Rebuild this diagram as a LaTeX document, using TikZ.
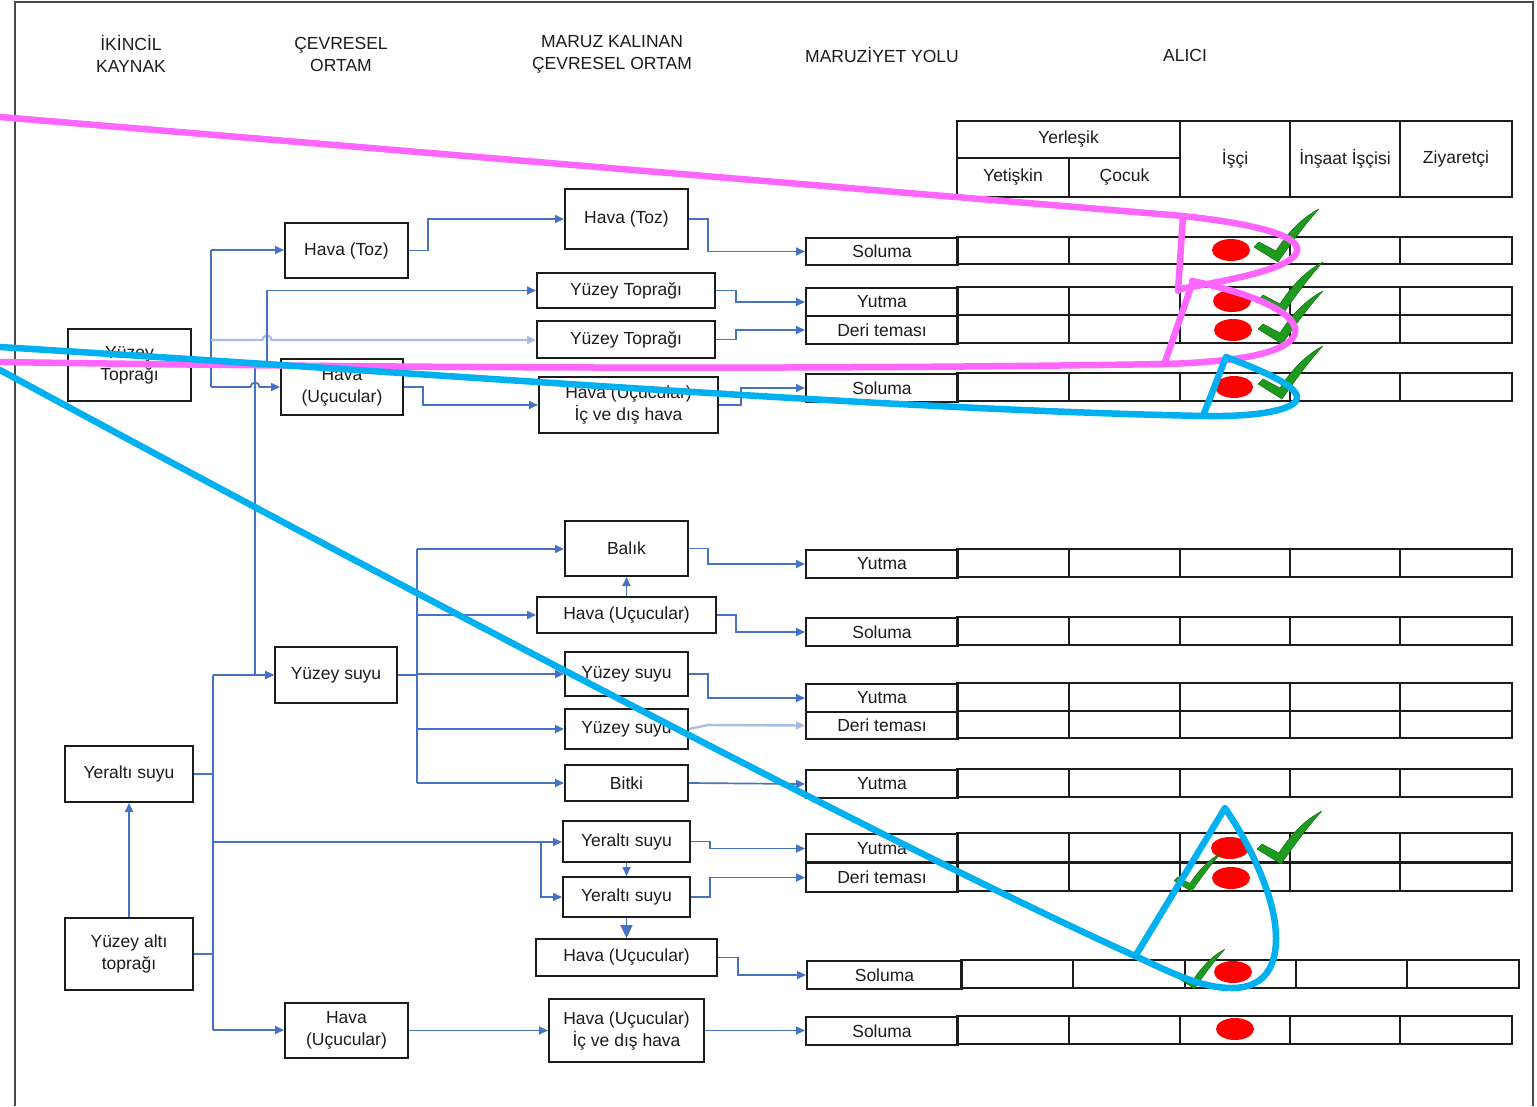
\documentclass[tikz,border=0pt]{standalone}
\usepackage{fontspec}
\setmainfont{Liberation Sans}
\usetikzlibrary{arrows.meta}
\definecolor{conncol}{HTML}{4472C4}
\definecolor{fadecol}{HTML}{A9BDE2}
\definecolor{pinkpen}{HTML}{FF66FF}
\definecolor{bluepen}{HTML}{00B0F0}
\definecolor{tickgreen}{HTML}{1E9A1E}
\definecolor{tickdark}{HTML}{0E6E0E}
\definecolor{inkcol}{HTML}{1C1C1C}
\definecolor{framecol}{HTML}{4A4A4A}
\newcommand\lbl{\fontsize{17.5}{22}\selectfont}
% five receptor cells of one pathway row
\newcommand\rowcells[2]{%
  \foreach \xa/\xb in {957/1069,1069/1180,1180/1290,1290/1400,1400/1512}
    {\draw[tbl] (\xa,#1) rectangle (\xb,#2);}}
\newcommand\mkbox[6]{\node[box,minimum width=#4pt,minimum height=#5pt] (#1) at (#2,#3) {#6};}
\begin{document}
\begin{tikzpicture}[x=1pt,y=-1pt,
  box/.style={draw=inkcol,line width=2pt,fill=white,align=center,inner sep=0pt,font=\lbl,text=inkcol},
  pcell/.style={draw=inkcol,line width=2pt,align=center,inner sep=0pt,font=\lbl,text=inkcol,anchor=north west,minimum width=152pt},
  tbl/.style={draw=inkcol,line width=2pt},
  hdr/.style={font=\lbl,align=center,text=inkcol},
  conn/.style={draw=conncol,line width=1.7pt},
  arr/.style={conn,-{Triangle[length=9pt,width=8pt]}},
  bigarr/.style={conn,-{Triangle[length=13pt,width=12pt]}},
  arrfade/.style={draw=fadecol,line width=2.4pt,-{Triangle[length=9pt,width=8pt,fill=conncol]}},
  pen/.style={line width=6.5pt,line join=round,line cap=round},
  okmark/.pic={\filldraw[fill=tickgreen,draw=tickdark,line width=0.5pt,line join=round]
     (2,2) -- (-22,-13) -- (-17,-18) -- (0,-9)
     .. controls (10,-25) and (25,-42) .. (43,-51)
     .. controls (28,-35) and (12,-12) .. (2,2) -- cycle;},
]
\useasboundingbox (0,0) rectangle (1537,1106);
\fill[white] (0,0) rectangle (1537,1106);
% page frame
\draw[framecol,line width=2.5pt] (15,1106) -- (15,2) -- (1533,2) -- (1533,1106);

% column headings
\node[hdr] (hd1) at (131,54) {İKİNCİL\\KAYNAK};
\node[hdr] (hd2) at (341,54) {ÇEVRESEL\\ORTAM};
\node[hdr] (hd3) at (612,54) {MARUZ KALINAN\\ÇEVRESEL ORTAM};
\node[hdr] (hd4) at (882,55) {MARUZİYET YOLU};
\node[hdr] (hd5) at (1185,55) {ALICI};

% receptor table heading
\mkbox{hYer}{1068.5}{139.5}{223}{37}{Yerleşik}
\mkbox{hYet}{1013}{177.5}{112}{39}{Yetişkin}
\mkbox{hCoc}{1124.5}{177.5}{111}{39}{Çocuk}
\mkbox{hIsc}{1235}{159}{110}{76}{İşçi}
\mkbox{hIns}{1345}{159}{110}{76}{İnşaat İşçisi}
\mkbox{hZiy}{1456}{159}{112}{76}{Ziyaretçi}

% secondary sources
\mkbox{ysT}{129.5}{365}{123}{72}{Yüzey\\Toprağı}
\mkbox{yas}{129}{774}{128}{56}{Yeraltı suyu}
\mkbox{yat}{129}{954}{128}{72}{Yüzey altı\\toprağı}

% environmental media
\mkbox{hT2}{346.5}{250.5}{123}{55}{Hava (Toz)}
\mkbox{hU2}{342}{387}{122}{56}{Hava\\(Uçucular)}
\mkbox{ys2}{336}{675}{122}{56}{Yüzey suyu}
\mkbox{hU2b}{346.5}{1030.5}{123}{55}{Hava\\(Uçucular)}

% exposed media
\mkbox{hT3}{626.5}{219}{123}{60}{Hava (Toz)}
\mkbox{yt3a}{626}{290.5}{178}{35}{Yüzey Toprağı}
\mkbox{yt3b}{626}{339.5}{178}{37}{Yüzey Toprağı}
\mkbox{hi3}{628.5}{405}{179}{56}{Hava (Uçucular)\\İç ve dış hava}
\mkbox{bal}{626.5}{548.5}{123}{55}{Balık}
\mkbox{hU3}{626.5}{615}{179}{36}{Hava (Uçucular)}
\mkbox{ys3a}{626.5}{674}{123}{44}{Yüzey suyu}
\mkbox{ys3b}{626.5}{729}{123}{40}{Yüzey suyu}
\mkbox{bit}{626.5}{783}{123}{36}{Bitki}
\mkbox{ya3a}{626.5}{841.5}{127}{41}{Yeraltı suyu}
\mkbox{ya3b}{626.5}{897}{127}{40}{Yeraltı suyu}
\mkbox{hU3b}{626.5}{957.5}{181}{37}{Hava (Uçucular)}
\mkbox{hi3b}{626.5}{1030.5}{155}{63}{Hava (Uçucular)\\İç ve dış hava}

% exposure pathway rows
\node[pcell,minimum height=27pt] (r1) at (805,237) {Soluma};
\node[pcell,minimum height=28pt] (r2a) at (805,287) {Yutma};
\node[pcell,minimum height=28pt] (r2b) at (805,315) {Deri teması};
\node[pcell,minimum height=28pt] (r3) at (805,373) {Soluma};
\node[pcell,minimum height=28pt] (r4) at (805,549) {Yutma};
\node[pcell,minimum height=28pt] (r5) at (805,617) {Soluma};
\node[pcell,minimum height=28pt] (r6a) at (805,683) {Yutma};
\node[pcell,minimum height=27pt] (r6b) at (805,711) {Deri teması};
\node[pcell,minimum height=28pt] (r7) at (805,769) {Yutma};
\node[pcell,minimum height=29pt] (r8a) at (805,833) {Yutma};
\node[pcell,minimum height=29pt] (r8b) at (805,862) {Deri teması};
\node[pcell,minimum height=28pt,minimum width=155pt] (r9) at (806,960) {Soluma};
\node[pcell,minimum height=28pt] (r10) at (805,1016) {Soluma};

\rowcells{237}{264}
\rowcells{287}{315}
\rowcells{315}{343}
\rowcells{373}{401}
\rowcells{549}{577}
\rowcells{617}{645}
\rowcells{683}{711}
\rowcells{711}{738}
\rowcells{769}{797}
\rowcells{833}{862}
\rowcells{862}{891}
\draw[inkcol,line width=3pt] (805,862) -- (1512,862);
\foreach \xa/\xb in {961/1073,1073/1185,1185/1296,1296/1407,1407/1519}
  {\draw[tbl] (\xa,960) rectangle (\xb,988);}
\rowcells{1016}{1044}

% surface soil branches
\coordinate (tkA) at (211,250);
\coordinate (tkB) at (211,340);
\coordinate (tkC) at (211,387);
\coordinate (tkM) at (211,364);
\coordinate (jR) at (267,364);
\coordinate (jL) at (255,364);
\draw[conn] (ysT.east) -- (ysT.east -| tkM);
\draw[conn] (tkA) -- (tkC);
\draw[arr] (tkA) -- (hT2.west |- tkA);
\draw[arrfade] (tkB) -- (262.5,340) arc[start angle=180,end angle=0,radius=4.5pt] -- (yt3b.west |- tkB);
\draw[arr] (tkC) -- (250.5,387) arc[start angle=180,end angle=0,radius=4.5pt] -- (hU2.west |- tkC);
\draw[conn] (tkM) -- (jR);
\draw[arr] (jR) |- (yt3a.west);
\draw[arr] (jL) |- (ys2.west);

% groundwater and subsurface soil branches
\coordinate (tlA) at (213,675);
\coordinate (tlB) at (213,1030);
\coordinate (tlY) at (213,842);
\coordinate (tlS) at (541,842);
\draw[conn] (yas.east) -- (yas.east -| tlA);
\draw[conn] (yat.east) -- (yat.east -| tlA);
\draw[conn] (tlA) -- (tlB);
\draw[arr] (tlA) -- (ys2.west);
\draw[arr] (tlB) -- (hU2b.west |- tlB);
\draw[arr] (tlY) -- (ya3a.west |- tlY);
\draw[arr] (tlS) |- (ya3b.west);
\draw[arr] (yat.north) -- (yas.south);

% surface water branches
\coordinate (swT) at (417,549);
\coordinate (swB) at (417,783);
\draw[conn] (ys2.east) -- (ys2.east -| swT);
\draw[conn] (swT) -- (swB);
\draw[arr] (swT) -- (bal.west |- swT);
\draw[arr] (swT |- hU3.west) -- (hU3.west);
\draw[arr] (swT |- ys3a.west) -- (ys3a.west);
\draw[arr] (swT |- ys3b.west) -- (ys3b.west);
\draw[arr] (swB) -- (bit.west |- swB);

% environmental media to exposed media
\draw[arr] (hT2.east) -- ++(19,0) |- (hT3.west);
\draw[arr] (hU2.east) -- ++(19,0) |- (hi3.west);
\draw[arr] (hU2b.east) -- (hi3b.west |- hU2b.east);
\draw[arr] (hU3.north) -- (bal.south);
\draw[arr] (ya3a.south) -- (ya3b.north);
\draw[bigarr] (ya3b.south) -- (hU3b.north);

% exposed media to pathways
\draw[arr] (hT3.east) -- ++(19,0) |- (r1.west);
\draw[arr] (yt3a.east) -- ++(20,0) |- (r2a.west);
\draw[arr] (yt3b.east) -- ++(20,0) |- (r2b.west);
\draw[arr] (hi3.east) -- ++(22,0) |- (r3.west);
\draw[arr] (bal.east) -- ++(19,0) |- (r4.west);
\draw[arr] (hU3.east) -- ++(19,0) |- (r5.west);
\draw[arr] (ys3a.east) -- ++(19,0) |- (r6a.west);
\draw[arrfade] (ys3b.east) -- ++(19,-4) -- (r6b.west);
\draw[arr] (bit.east) -- (r7.west);
\draw[arr] (ya3a.east) -- ++(19,0) |- (r8a.west);
\draw[arr] (ya3b.east) -- ++(19,0) |- (r8b.west);
\draw[arr] (hU3b.east) -- ++(20,0) |- (r9.west);
\draw[arr] (hi3b.east) -- (hi3b.east -| r10.west);

% red marks in the worker column
\foreach \px/\py in {1231/250,1232/301,1233/330,1234/387,1230/848,1231/878,1233/972,1235/1029}
  {\fill[red] (\px,\py) ellipse[x radius=19pt,y radius=11pt];}

% green ticks
\pic at (1276,260) {okmark};
\pic at (1280,313) {okmark};
\pic at (1280,342) {okmark};
\pic at (1280,397) {okmark};
\pic at (1279,862) {okmark};
\pic[scale=0.72] at (1190,890) {okmark};
\pic[scale=0.74] at (1193,987) {okmark};

% magenta hand-drawn loops
\draw[pen,pinkpen] (0,117) -- (1183,216)
   .. controls (1265,225) and (1305,238) .. (1296,254)
   .. controls (1285,270) and (1230,280) .. (1180,289);
\draw[pen,pinkpen] (1183,216) -- (1178,291);
\draw[pen,pinkpen] (1192,281)
   .. controls (1265,296) and (1303,318) .. (1294,336)
   .. controls (1283,355) and (1230,362) .. (1165,364)
   .. controls (800,370) and (400,368) .. (0,362);
\draw[pen,pinkpen] (1193,281) -- (1165,362);

% blue hand-drawn loops
\draw[pen,bluepen] (0,347) .. controls (500,378) and (900,410) .. (1205,416)
   .. controls (1265,417) and (1300,408) .. (1297,396)
   .. controls (1293,383) and (1255,368) .. (1226,357) -- (1203,416);
\draw[pen,bluepen] (0,370) .. controls (350,560) and (900,850) .. (1133,955)
   .. controls (1170,972) and (1200,988) .. (1232,988)
   .. controls (1285,988) and (1282,930) .. (1265,885)
   .. controls (1252,850) and (1238,828) .. (1225,808) -- (1136,955);
\end{tikzpicture}
\end{document}
